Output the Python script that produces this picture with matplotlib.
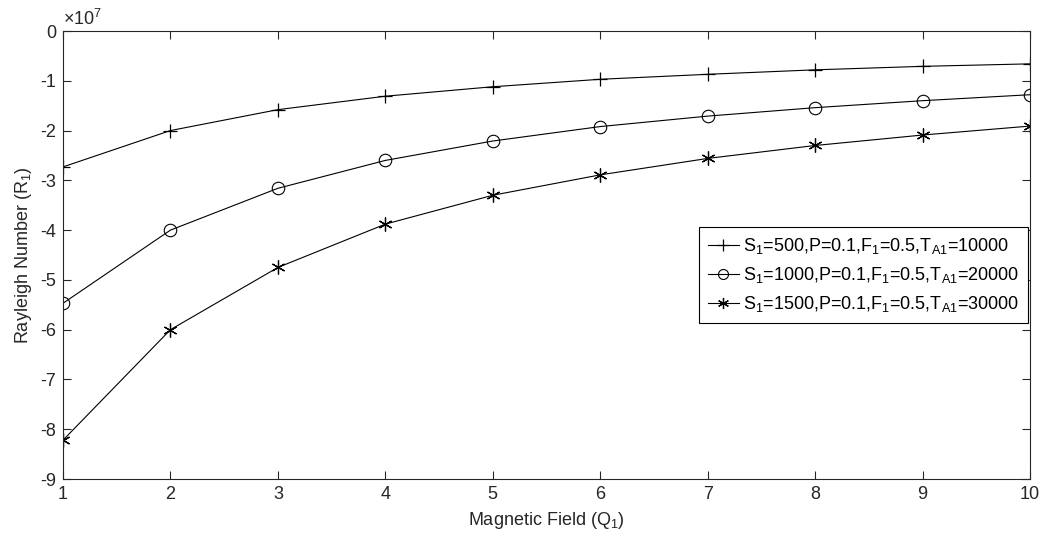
import matplotlib
matplotlib.use("Agg")
import matplotlib.pyplot as plt
from matplotlib.ticker import FuncFormatter

plt.rcParams['font.family'] = ['Liberation Sans', 'DejaVu Sans']
plt.rcParams['mathtext.default'] = 'regular'
plt.rcParams['axes.unicode_minus'] = False

# magnetic field values
q1 = [1, 2, 3, 4, 5, 6, 7, 8, 9, 10]

# Rayleigh number (x 1e7)
r_s500 = [-2.73, -2.00, -1.58, -1.31, -1.12, -0.97, -0.87, -0.78, -0.71, -0.66]
r_s1000 = [-5.47, -4.00, -3.16, -2.60, -2.21, -1.92, -1.71, -1.54, -1.40, -1.28]
r_s1500 = [-8.22, -6.00, -4.75, -3.88, -3.30, -2.89, -2.56, -2.30, -2.09, -1.91]

labels = [
    r'S$_1$=500,P=0.1,F$_1$=0.5,T$_{A1}$=10000',
    r'S$_1$=1000,P=0.1,F$_1$=0.5,T$_{A1}$=20000',
    r'S$_1$=1500,P=0.1,F$_1$=0.5,T$_{A1}$=30000',
]

fs = 13
txt = '#262626'
scale = 1e7

fig = plt.figure(figsize=(10.42, 5.37), dpi=100)
ax = fig.add_axes([63 / 1042, 1 - 479 / 537, (1030 - 63) / 1042, (479 - 31) / 537])

lw = 0.8
ax.plot(q1, [v * scale for v in r_s500], color='black', lw=lw, marker='+',
        markersize=10, markeredgewidth=0.9, label=labels[0])
ax.plot(q1, [v * scale for v in r_s1000], color='black', lw=lw, marker='o',
        markersize=9, markerfacecolor='none', markeredgewidth=0.8, label=labels[1])
ax.plot(q1, [v * scale for v in r_s1500], color='black', lw=lw, marker=(6, 2, 0),
        markersize=10, markeredgewidth=0.9, label=labels[2])

ax.set_xlim(1, 10)
ax.set_ylim(-9 * scale, 0)
ax.set_xticks(q1)
ax.set_yticks([i * scale for i in range(-9, 1)])
ax.yaxis.set_major_formatter(FuncFormatter(lambda v, p: f'{v / scale:g}'))
# MATLAB style exponent label above the y axis
ax.text(0.0, 1.005, r'$\times10^{7}$', transform=ax.transAxes, fontsize=fs,
        color=txt, ha='left', va='bottom')

ax.tick_params(direction='in', top=True, right=True, length=6, width=0.8,
               labelsize=fs, colors=txt, pad=5)
for s in ax.spines.values():
    s.set_linewidth(0.8)
    s.set_color(txt)

ax.set_xlabel('Magnetic Field (Q$_1$)', fontsize=fs, color=txt, labelpad=5)
ax.set_ylabel('Rayleigh Number (R$_1$)', fontsize=fs, color=txt, labelpad=4)

leg = ax.legend(loc='upper right', bbox_to_anchor=(0.998, 0.562), fontsize=fs,
                frameon=True, fancybox=False, framealpha=1, edgecolor='black',
                handlelength=1.7, handletextpad=0.25, borderpad=0.5,
                labelspacing=0.5, borderaxespad=0, markerscale=0.8)
leg.get_frame().set_linewidth(0.8)

fig.savefig('out.png', dpi=100)
